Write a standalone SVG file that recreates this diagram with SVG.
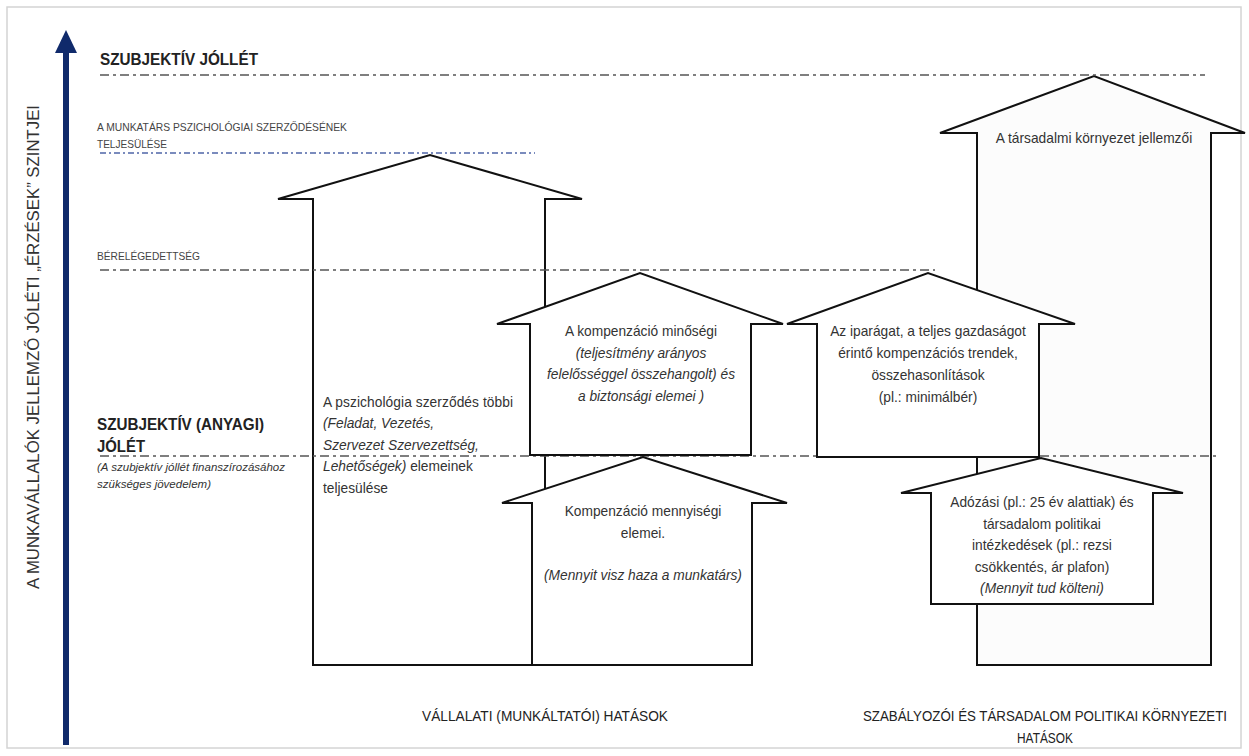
<svg xmlns="http://www.w3.org/2000/svg" width="1249" height="756" viewBox="0 0 1249 756">
<style>
.frame{fill:#fff;stroke:#d4d4d4;stroke-width:1.5}
.arr{fill:#fff;stroke:#111;stroke-width:2;stroke-linejoin:miter}
.arrg{fill:#fcfcfc;stroke:#111;stroke-width:2;stroke-linejoin:miter}
.dd{fill:none;stroke:#555;stroke-width:1.5;stroke-dasharray:9 4 3 4}
.db{fill:none;stroke:#4f66a8;stroke-width:1.5;stroke-dasharray:6 3 2 3}
text{font-family:"Liberation Sans",Arial,sans-serif;fill:#333}
.t{font-size:13.75px}
.c{text-anchor:middle}
.i{font-style:italic}
.h{font-weight:bold;fill:#222}
.s{font-size:11px;fill:#444}
.lab{font-size:15px;fill:#222}
</style>
<rect class="frame" x="7" y="7" width="1234" height="741"/>
<g id="axis">
<line x1="66" y1="50" x2="66" y2="745" stroke="#102a6b" stroke-width="6"/>
<polygon points="66,30 55,53 77,53" fill="#102a6b"/>
<text x="0" y="0" transform="translate(39,347) rotate(-90)" class="c" font-size="17" fill="#444" textLength="484" lengthAdjust="spacingAndGlyphs">A MUNKAVÁLLALÓK  JELLEMZŐ JÓLÉTI „ÉRZÉSEK” SZINTJEI</text>
</g>
<g id="big-left-arrow"><polygon class="arr" points="313,665 313,199 278,199 430,155 582,199 545,199 545,665"/></g>
<g id="big-right-arrow"><polygon class="arrg" points="977,665 977,133 940,133 1094,76 1245,133 1211,133 1211,665"/></g>
<g id="levels">
<line class="dd" x1="100" y1="75" x2="1205" y2="75"/>
<line class="db" x1="100" y1="153" x2="535" y2="153"/>
<line class="dd" x1="100" y1="270" x2="935" y2="270"/>
<line class="dd" x1="100" y1="456" x2="1218" y2="456"/>
</g>
<g id="arrow-minosegi"><polygon class="arr" points="530,455 530,324 497,324 640,273 783,324 751,324 751,455"/></g>
<g id="arrow-mennyisegi"><polygon class="arr" points="532,665 532,503 502,503 643,457 787,503 752,503 752,665"/></g>
<g id="arrow-iparag"><polygon class="arr" points="817,457 817,324 787,324 928,273 1075,324 1039,324 1039,457"/></g>
<g id="arrow-adozasi"><polygon class="arr" points="931,604 931,493 901,493 1041,458 1183,493 1153,493 1153,604"/></g>
<g id="level-labels">
<text x="100" y="65" class="h" font-size="17" textLength="158" lengthAdjust="spacingAndGlyphs">SZUBJEKTÍV JÓLLÉT</text>
<text x="97" y="131" class="s" textLength="250" lengthAdjust="spacingAndGlyphs">A  MUNKATÁRS PSZICHOLÓGIAI SZERZŐDÉSÉNEK</text>
<text x="97" y="148" class="s" textLength="70" lengthAdjust="spacingAndGlyphs">TELJESÜLÉSE</text>
<text x="97" y="260" class="s" textLength="103" lengthAdjust="spacingAndGlyphs">BÉRELÉGEDETTSÉG</text>
<text x="97" y="430" class="h" font-size="16" textLength="167" lengthAdjust="spacingAndGlyphs">SZUBJEKTÍV (ANYAGI)</text>
<text x="97" y="452" class="h" font-size="16" textLength="48" lengthAdjust="spacingAndGlyphs">JÓLÉT</text>
<text x="97" y="471" class="i" font-size="11.5" fill="#444" textLength="188" lengthAdjust="spacingAndGlyphs">(A szubjektív jóllét finanszírozásához</text>
<text x="97" y="488" class="i" font-size="11.5" fill="#444" textLength="114" lengthAdjust="spacingAndGlyphs">szükséges jövedelem)</text>
</g>
<g id="text-left" class="t">
<text x="323" y="406.5" textLength="190" lengthAdjust="spacing">A pszichológia  szerződés  többi</text>
<text x="323" y="428" class="i">(Feladat,  Vezetés,</text>
<text x="323" y="449.5" class="i">Szervezet Szervezettség,</text>
<text x="323" y="471"><tspan class="i">Lehetőségek)</tspan> elemeinek</text>
<text x="323" y="492.5">teljesülése</text>
</g>
<g id="text-minosegi" class="t c">
<text x="641" y="336">A kompenzáció  minőségi</text>
<text x="641" y="357.5" class="i">(teljesítmény  arányos</text>
<text x="641" y="379" class="i">felelősséggel  összehangolt)  és</text>
<text x="641" y="400.5" class="i">a biztonsági  elemei )</text>
</g>
<g id="text-iparag" class="t c">
<text x="928" y="336">Az iparágat,  a teljes gazdaságot</text>
<text x="928" y="358">érintő  kompenzációs  trendek,</text>
<text x="928" y="380">összehasonlítások</text>
<text x="928" y="402">(pl.: minimálbér)</text>
</g>
<g id="text-mennyisegi" class="t c">
<text x="643" y="516">Kompenzáció  mennyiségi</text>
<text x="643" y="538">elemei.</text>
<text x="643" y="580" class="i">(Mennyit visz haza a munkatárs)</text>
</g>
<g id="text-adozasi" class="t c">
<text x="1042" y="507">Adózási (pl.: 25 év alattiak) és</text>
<text x="1042" y="528.5">társadalom  politikai</text>
<text x="1042" y="550">intézkedések  (pl.: rezsi</text>
<text x="1042" y="571.5">csökkentés,  ár plafon)</text>
<text x="1042" y="593" class="i">(Mennyit tud költeni)</text>
</g>
<g id="text-tarsadalmi" class="t c">
<text x="1094" y="143">A társadalmi  környezet  jellemzői</text>
</g>
<g id="bottom-labels">
<text x="545" y="721" class="lab c" textLength="246" lengthAdjust="spacingAndGlyphs">VÁLLALATI (MUNKÁLTATÓI) HATÁSOK</text>
<text x="1045" y="721" class="lab c" textLength="364" lengthAdjust="spacingAndGlyphs">SZABÁLYOZÓI ÉS TÁRSADALOM POLITIKAI KÖRNYEZETI</text>
<text x="1045" y="743" class="lab c" textLength="56" lengthAdjust="spacingAndGlyphs">HATÁSOK</text>
</g>
</svg>
